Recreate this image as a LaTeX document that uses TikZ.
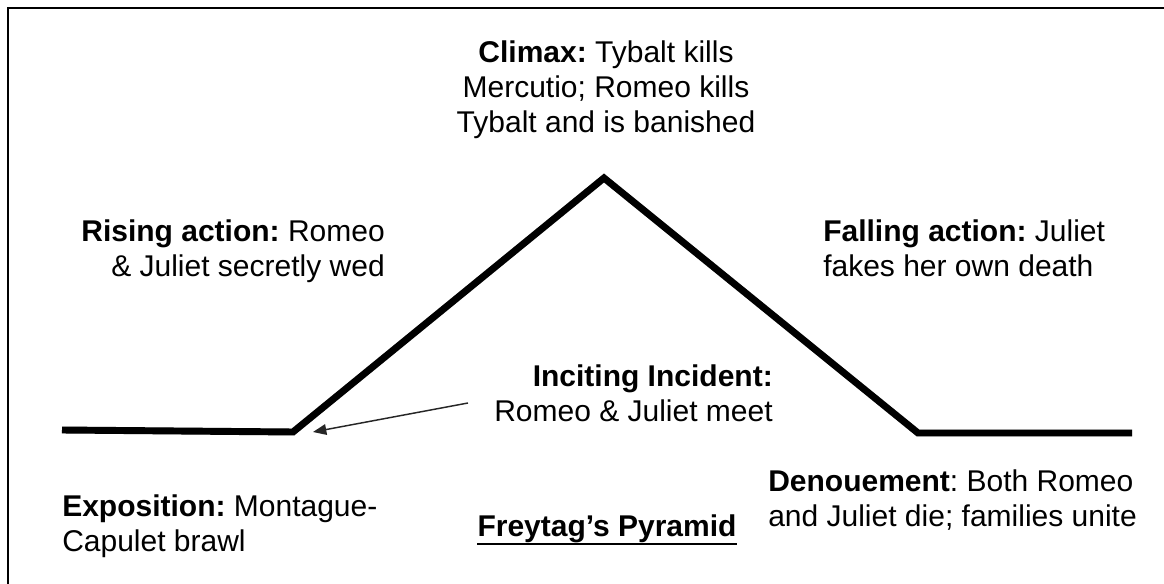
\documentclass[tikz,border=0pt]{standalone}
\usepackage{fontspec}
\setmainfont{Liberation Sans}
\frenchspacing
\usetikzlibrary{arrows.meta}

\begin{document}
\begin{tikzpicture}[
  x=0.75pt, y=-0.75pt,
  every node/.style={font=\fontsize{22.5}{26.25}\selectfont, inner sep=0pt},
  stage/.style={align=left},
  frame/.style={line width=1.5pt},
  plot/.style={line width=5.2pt, line join=miter},
  plotshadow/.style={line width=5.2pt, line join=miter, black!18},
  pointer/.style={-{Triangle[length=10pt, width=8pt]}, line width=1.1pt, black!85}
]
  \useasboundingbox (0,0) rectangle (1164,584);
  \draw[frame] (1164,7.7) -- (8.3,7.7) -- (8.3,584);

  % points of the pyramid
  \coordinate (start) at (62,430);
  \coordinate (incident) at (293,432);
  \coordinate (peak) at (604,178);
  \coordinate (resolve) at (918,433);
  \coordinate (finish) at (1132,433);

  \draw[plotshadow, shift={(1.5,3)}] (start) -- (incident) -- (peak) -- (resolve) -- (finish);
  \draw[plot] (start) -- (incident) -- (peak) -- (resolve) -- (finish);

  % base anchors sit on the last line
  \node[stage, align=center, anchor=base] (climax) at (606,133)
    {\textbf{Climax:} Tybalt kills\\Mercutio; Romeo kills\\Tybalt and is banished};
  \node[stage, align=right, anchor=base east] (rising) at (385,277)
    {\textbf{Rising action:} Romeo\\\& Juliet secretly wed};
  \node[stage, anchor=base west] (falling) at (823,277)
    {\textbf{Falling action:} Juliet\\fakes her own death};
  \node[stage, align=right, anchor=base east] (incite) at (773,422)
    {\textbf{Inciting Incident:}\\Romeo \& Juliet meet};
  \node[stage, anchor=base west] (expo) at (62,551)
    {\textbf{Exposition:} Montague-\\Capulet brawl};
  \node[stage, anchor=base west] (denoue) at (768,526)
    {\textbf{Denouement}: Both Romeo\\and Juliet die; families unite};
  \node[anchor=base] (title) at (607,537) {\textbf{Freytag’s Pyramid}};
  \draw[line width=1.4pt] (title.south west) -- (title.south east);

  \coordinate (pointfrom) at (468,403);
  \coordinate (pointto) at (313,432);
  \draw[pointer] (pointfrom) -- (pointto);
\end{tikzpicture}
\end{document}
